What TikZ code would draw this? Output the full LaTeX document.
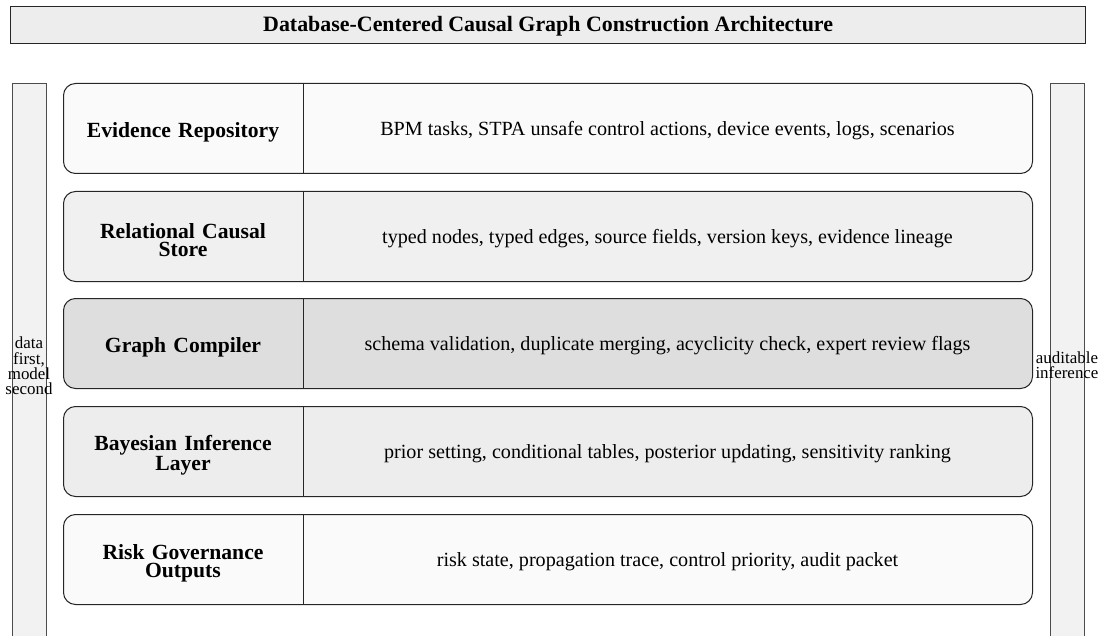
\documentclass[tikz,border=0pt]{standalone}
\usepackage{fontspec}
\setmainfont{Liberation Serif}
\begin{document}
\begin{tikzpicture}[x=1bp,y=-1bp,
  titlebox/.style={draw=black!85, line width=1.2bp, fill=black!7, minimum width=1075bp, minimum height=37bp, inner sep=0pt, anchor=north west},
  rowbox/.style={draw=black!85, line width=1bp, rounded corners=12bp, minimum width=969bp, minimum height=90bp, inner sep=0pt, anchor=north west},
  sidebar/.style={draw=black!70, line width=1bp, fill=black!5, minimum width=34bp, minimum height=560bp, inner sep=0pt, anchor=north west},
  lbl/.style={align=center, text width=220bp, font=\bfseries\fontsize{21.7}{18}\selectfont},
  desc/.style={align=center, font=\fontsize{20.2}{22}\selectfont},
  side/.style={align=center, inner sep=0pt, font=\fontsize{17}{15.5}\selectfont}
]
\useasboundingbox (0,0) rectangle (1101,636);
\node[titlebox] (title) at (10,6) {};
\node at ([yshift=-1bp]title.center) (titletext) {\bfseries\fontsize{22}{24}\selectfont Database-Centered Causal Graph Construction Architecture};

\node[sidebar] (lbar) at (12,83) {};
\node[sidebar] (rbar) at (1050,83) {};
\node[side] (ltext) at (29,366) {data\\first,\\model\\second};
\node[side] (rtext) at (1067,365) {auditable\\inference};

\foreach \i/\top/\col/\lab/\des in {
  1/83/black!2/{Evidence Repository}/{BPM tasks, STPA unsafe control actions, device events, logs, scenarios},
  2/191/black!6/{Relational Causal\\Store}/{typed nodes, typed edges, source fields, version keys, evidence lineage},
  3/298/black!13/{Graph Compiler}/{schema validation, duplicate merging, acyclicity check, expert review flags},
  4/406/black!7/{Bayesian Inference\\Layer}/{prior setting, conditional tables, posterior updating, sensitivity ranking},
  5/514/black!2/{Risk Governance\\Outputs}/{risk state, propagation trace, control priority, audit packet}} {
  \node[rowbox, fill=\col] (row\i) at (63,\top) {};
  \draw[line width=0.8bp, black!85] ([xshift=240bp]row\i.north west) -- ([xshift=240bp]row\i.south west);
  \node[lbl] (lab\i) at (183,\top+49) {\lab};
  \node[desc] (des\i) at (667.5,\top+48) {\des};
}
\end{tikzpicture}
\end{document}
